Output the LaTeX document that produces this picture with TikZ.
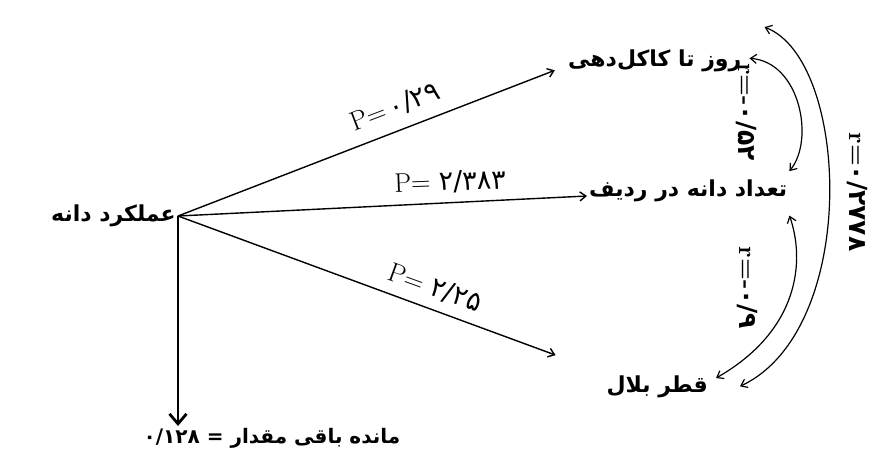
\documentclass[tikz,border=0pt]{standalone}
\usepackage{fontspec}
\usepackage{tikz}
\usetikzlibrary{arrows.meta}
\newfontfamily\fa[Script=Arabic]{DejaVu Sans}
\TeXXeTstate=1

\begin{document}
\begin{tikzpicture}[x=1pt, y=-1pt, >={Straight Barb[length=6pt,width=9pt]},
  lbl/.style={font=\fa\bfseries\fontsize{22}{26}\selectfont, inner sep=2pt},
  plbl/.style={font=\fontsize{27}{30}\selectfont, inner sep=1pt},
  rlbl/.style={font=\bfseries\fontsize{25}{28}\selectfont, rotate=-90, inner sep=1pt},
  link/.style={line width=1.4pt, ->},
  corr/.style={line width=1.2pt, <->}]

\useasboundingbox (0,0) rectangle (889,472);

%% variables
\coordinate (o) at (178,216);
\node[lbl, anchor=east] (yield) at (o) {\beginR عملکرد دانه\endR};
\node[lbl, anchor=base west] (days) at (566,66) {\beginR روز تا کاکل‌دهی\endR};
\node[lbl, anchor=base west] (rows) at (587,196) {\beginR تعداد دانه در ردیف\endR};
\node[lbl, anchor=base east] (diam) at (710,392) {\beginR قطر بلال\endR};
\node[lbl, anchor=north, font=\fa\bfseries\fontsize{20}{24}\selectfont] (res) at (272,426)
  {\beginR مانده باقی مقدار = \beginL۰/۱۲۸\endL\endR};

%% paths
\draw[link, shorten >=12pt] (o) -- (days.base west);
\draw[link] (o) -- (rows.base west);
\draw[link, shorten >=52pt] (o) -- (diam.north west);
\draw[line width=2.8pt, ->, >={Straight Barb[length=10pt,width=17pt]}] (o) -- (o |- res.north);

\node[plbl, rotate=21] at (395,107) {P=\,{\fa ۰/۲۹}};
\node[plbl, rotate=2]  at (450,182) {P= {\fa ۲/۳۸۳}};
\node[plbl, rotate=-20] at (435,288) {P= {\fa ۲/۲۵}};

%% correlations
\draw[corr] ([xshift=6pt,yshift=2pt]days.east) .. controls (800,62) and (815,140) .. ([yshift=6pt]rows.north east);
\draw[corr] ([yshift=-12pt]rows.south east) .. controls (805,260) and (800,330) .. ([xshift=6pt,yshift=-5pt]diam.north east);
\draw[corr] ([xshift=21pt,yshift=20pt]days.north east) .. controls (850,60) and (860,330) .. ([xshift=30pt]diam.east);

\node[rlbl] at (746,112) {r=-{\fa ۰/۵۲}};
\node[rlbl] at (747,288) {r=-{\fa ۰/۹}};
\node[rlbl] at (857,192) {r={\fa ۰/۲۷۷۸}};
\end{tikzpicture}
\end{document}
